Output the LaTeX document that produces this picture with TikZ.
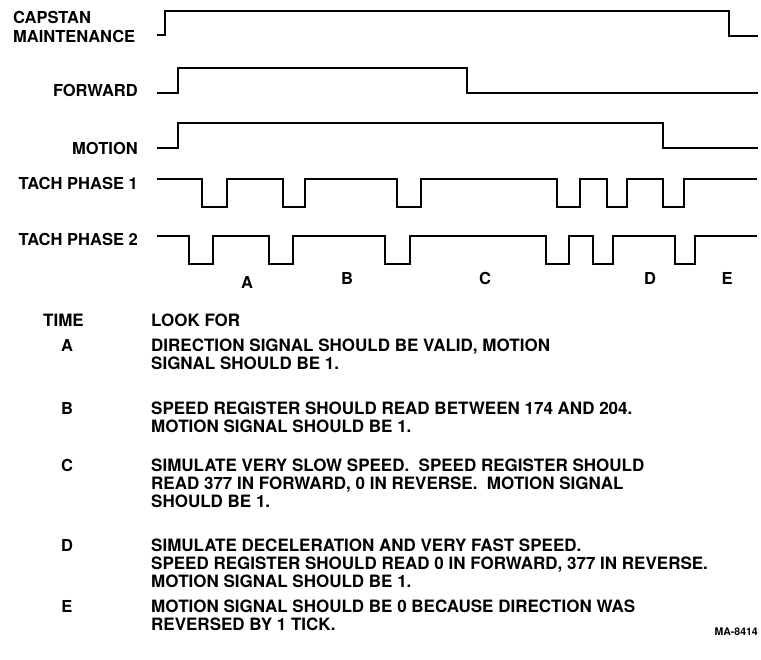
\documentclass[tikz,border=0pt]{standalone}
\usepackage{fontspec}
\setmainfont{TeX Gyre Heros}
\usetikzlibrary{positioning}
\pgfdeclarelayer{background}
\pgfdeclarelayer{edgelayer}
\pgfdeclarelayer{nodelayer}
\pgfsetlayers{background,edgelayer,nodelayer,main}
\tikzstyle{none}=[inner sep=0mm]
\tikzstyle{every picture}=[x=1pt,y=-1pt]
\tikzstyle{sig}=[none,anchor=east,font=\fontsize{16.5}{18}\selectfont\bfseries]
\tikzstyle{letter}=[none,font=\fontsize{16.5}{18}\selectfont\bfseries]
\tikzstyle{row}=[none,anchor=north west,align=left,font=\fontsize{17}{18}\selectfont\bfseries]
\tikzstyle{wave}=[line width=1.6pt,line join=miter]

\begin{document}
\begin{tikzpicture}
	\useasboundingbox (0, 0) rectangle (761, 660);
	\begin{pgfonlayer}{nodelayer}
		\node [style=row, font=\fontsize{16.5}{19.5}\selectfont\bfseries] (capstan) at (13, 11) {CAPSTAN\\MAINTENANCE};
		\node [style=sig] (forward) at (138, 90) {FORWARD};
		\node [style=sig] (motion) at (138, 148) {MOTION};
		\node [style=sig] (tach1) at (138, 183) {TACH PHASE 1};
		\node [style=sig] (tach2) at (138, 239) {TACH PHASE 2};
		\node [style=letter] (ta) at (247, 282) {A};
		\node [style=letter] (tb) at (347, 278) {B};
		\node [style=letter] (tc) at (485, 278) {C};
		\node [style=letter] (td) at (650, 278) {D};
		\node [style=letter] (te) at (727, 278) {E};
		\node [style=row] (timehead) at (43, 314) {TIME};
		\node [style=row] (lookhead) at (151, 314) {LOOK FOR};
		\node [style=letter] (rowa) at (67, 345) {A};
		\node [style=letter] (rowb) at (67, 408) {B};
		\node [style=letter] (rowc) at (67, 465) {C};
		\node [style=letter] (rowd) at (67, 545) {D};
		\node [style=letter] (rowe) at (67, 606) {E};
		\node [style=row] (texta) at (151, 339) {DIRECTION SIGNAL SHOULD BE VALID, MOTION\\SIGNAL SHOULD BE 1.};
		\node [style=row] (textb) at (151, 402) {SPEED REGISTER SHOULD READ BETWEEN 174 AND 204.\\MOTION SIGNAL SHOULD BE 1.};
		\node [style=row] (textc) at (151, 459) {SIMULATE VERY SLOW SPEED.\ \ SPEED REGISTER SHOULD\\READ 377 IN FORWARD, 0 IN REVERSE.\ \ MOTION SIGNAL\\SHOULD BE 1.};
		\node [style=row] (textd) at (151, 539) {SIMULATE DECELERATION AND VERY FAST SPEED.\\SPEED REGISTER SHOULD READ 0 IN FORWARD, 377 IN REVERSE.\\MOTION SIGNAL SHOULD BE 1.};
		\node [style=row] (texte) at (151, 600) {MOTION SIGNAL SHOULD BE 0 BECAUSE DIRECTION WAS\\REVERSED BY 1 TICK.};
		\node [style=none, anchor=east, font=\fontsize{10.5}{12}\selectfont\bfseries] (fig) at (758, 632) {MA-8414};
	\end{pgfonlayer}
	\begin{pgfonlayer}{edgelayer}
		\draw [style=wave] (157, 35) -- (165, 35) -- (165, 11) -- (729, 11) -- (729, 36) -- (758, 36);
		\draw [style=wave] (157, 93) -- (178, 93) -- (178, 68) -- (467, 68) -- (467, 93) -- (758, 93);
		\draw [style=wave] (157, 148) -- (178, 148) -- (178, 123) -- (663, 123) -- (663, 148) -- (758, 148);
		\draw [style=wave] (157, 179)
			foreach \a/\b in {202/227, 283/305, 397/421, 557/580, 607/627, 663/684} {
				-- (\a, 179) -- (\a, 207) -- (\b, 207) -- (\b, 179)
			} -- (757, 179);
		\draw [style=wave] (157, 236)
			foreach \a/\b in {189/213, 269/293, 385/410, 546/569, 593/613, 675/695} {
				-- (\a, 236) -- (\a, 264) -- (\b, 264) -- (\b, 236)
			} -- (757, 236);
	\end{pgfonlayer}
\end{tikzpicture}
\end{document}
